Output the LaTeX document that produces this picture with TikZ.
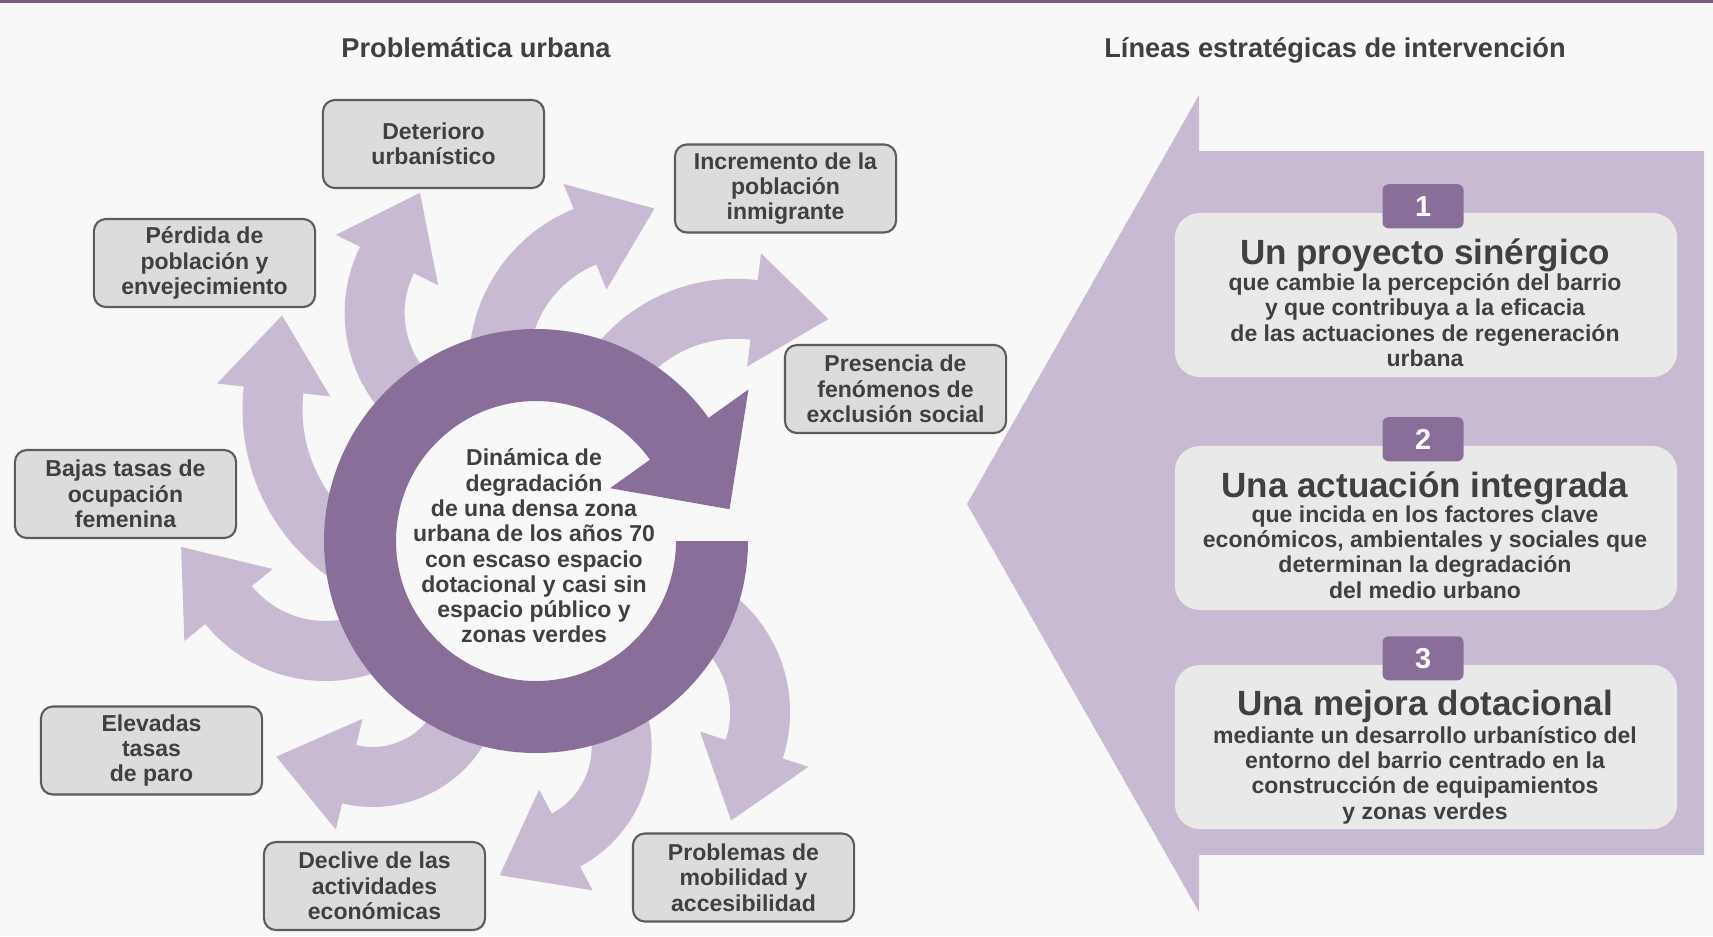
\documentclass[tikz,border=0pt]{standalone}
\usepackage{fontspec}
\setmainfont{Liberation Sans}
\usetikzlibrary{calc,positioning}

\definecolor{bgfill}{HTML}{F8F8F8}
\definecolor{topline}{HTML}{75607F}
\definecolor{ringfill}{HTML}{8A6E9A}
\definecolor{lightfill}{HTML}{C8BAD3}
\definecolor{boxfill}{HTML}{DCDCDC}
\definecolor{boxline}{HTML}{5C5C5C}
\definecolor{panelbox}{HTML}{E9E9E9}
\definecolor{txt}{HTML}{404040}

\begin{document}
\begin{tikzpicture}[x=0.01cm, y=-0.01cm,
    problem/.style={draw=boxline, fill=boxfill, line width=0.6pt, rounded corners=0.12cm,
      minimum width=2.21cm, minimum height=0.88cm, inner sep=0pt, align=center,
      text=txt, font=\fontsize{6.55}{7.2}\selectfont\bfseries},
    bodytext/.style={align=center, inner sep=0pt, text=txt, font=\fontsize{6.55}{7.2}\selectfont\bfseries},
    headtext/.style={anchor=base, inner sep=0pt, text=txt, font=\fontsize{9.96}{11}\selectfont\bfseries},
    title/.style={anchor=base, inner sep=0pt, text=txt, font=\fontsize{7.74}{9}\selectfont\bfseries},
    linebox/.style={fill=panelbox, rounded corners=0.25cm, minimum width=5.02cm, minimum height=1.64cm, inner sep=0pt},
    numtab/.style={fill=ringfill, rounded corners=0.06cm, minimum width=0.81cm, minimum height=0.44cm,
      inner sep=0pt, text=white, font=\fontsize{8.2}{9}\selectfont\bfseries}]
    %
    \useasboundingbox (0,0) rectangle (1713,936);
    \fill[bgfill] (0,0) rectangle (1713,936);
    \fill[topline] (0,0) rectangle (1713,3);
    %
    \node[title] (tleft) at (476,57) {Problemática urbana};
    \node[title] (tright) at (1335,57) {Líneas estratégicas de intervención};
    %
    \foreach \cx/\cy/\rad/\sa/\ea in {447.5/409.8/175/110/186.5, 494.6/313/120/110/206.2,
        636.9/364.6/138/185/247.9, 735.8/458.8/150/-160/-83, 640.1/712.1/120/-55/18,
        516.6/747.3/105/-25/62, 372.7/677/100/0/103.6, 325.4/526/125/45/140.8}
    {
      \fill[lightfill] ($(\cx,\cy)+({\sa}:{\rad+30})$) arc[start angle=\sa, end angle=\ea, radius=\rad+30]
        -- ($(\cx,\cy)+({\ea}:{\rad+57})$) -- ($(\cx,\cy)+({\ea}:{\rad})+({\ea+90}:75)$)
        -- ($(\cx,\cy)+({\ea}:{\rad-57})$) -- ($(\cx,\cy)+({\ea}:{\rad-30})$)
        arc[start angle=\ea, end angle=\sa, radius=\rad-30] -- cycle;
    }
    %
    \coordinate (ringc) at (536,541);
    \fill[bgfill] (ringc) circle[radius=140];
    \fill[ringfill] ($(ringc)+(0:212)$) arc[start angle=0, end angle=324.5, radius=212]
      -- ($(ringc)+(324.5:261)$) -- ($(ringc)+(324.5:176)+(54.5:86.5)$)
      -- ($(ringc)+(324.5:91)$) -- ($(ringc)+(324.5:140)$)
      arc[start angle=324.5, end angle=0, radius=140] -- cycle;
    \node[bodytext] (dinamica) at (534,546) {Dinámica de\\degradación\\de una densa zona\\urbana de los años 70\\con escaso espacio\\dotacional y casi sin\\espacio público y\\zonas verdes};
    %
    \node[problem] (deterioro) at (433.5,144) {Deterioro\\urbanístico};
    \node[problem] (incremento) at (785.5,188.5) {Incremento de la\\población\\inmigrante};
    \node[problem] (perdida) at (204.5,263) {Pérdida de\\población y\\envejecimiento};
    \node[problem] (presencia) at (895.5,389) {Presencia de\\fenómenos de\\exclusión social};
    \node[problem] (bajas) at (125.5,494) {Bajas tasas de\\ocupación\\femenina};
    \node[problem] (elevadas) at (151.5,750.5) {Elevadas\\tasas\\de paro};
    \node[problem] (declive) at (374.5,886) {Declive de las\\actividades\\económicas};
    \node[problem] (problemas) at (743.5,877.5) {Problemas de\\mobilidad y\\accesibilidad};
    %
    \fill[lightfill] (967,504) -- (1199,95) -- (1199,151) -- (1704,151) -- (1704,855)
      -- (1199,855) -- (1199,912) -- cycle;
    %
    \node[linebox] (lb1) at (1426,295) {};
    \node[linebox] (lb2) at (1426,528) {};
    \node[linebox] (lb3) at (1426,747) {};
    \node[numtab] (n1) at ($(lb1.north)+(-3,-6)$) {1};
    \node[numtab] (n2) at ($(lb2.north)+(-3,-6)$) {2};
    \node[numtab] (n3) at ($(lb3.north)+(-3,-6)$) {3};
    %
    \node[headtext] (h1) at (1425,264) {Un proyecto sinérgico};
    \node[bodytext] (b1) at (1425,320) {que cambie la percepción del barrio\\y que contribuya a la eficacia\\de las actuaciones de regeneración\\urbana};
    \node[headtext] (h2) at (1425,497) {Una actuación integrada};
    \node[bodytext] (b2) at (1425,552) {que incida en los factores clave\\económicos, ambientales y sociales que\\determinan la degradación\\del medio urbano};
    \node[headtext] (h3) at (1425,715) {Una mejora dotacional};
    \node[bodytext] (b3) at (1425,775) {mediante un desarrollo urbanístico del\\entorno del barrio centrado en la\\construcción de equipamientos\\y zonas verdes};
\end{tikzpicture}
\end{document}
